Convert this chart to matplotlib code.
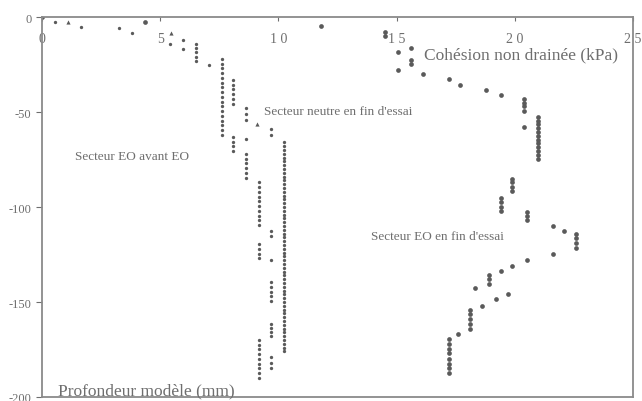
import matplotlib.pyplot as plt

plt.rcParams['font.family'] = ['Liberation Serif', 'DejaVu Serif']
plt.rcParams['axes.unicode_minus'] = False

# Secteur EO avant EO (small dots)
avant_x = [0.55, 1.65, 3.25, 3.8, 5.4, 5.95, 5.95,
           6.5, 6.5, 6.5, 6.5, 6.5, 7.05,
           7.6, 7.6, 7.6, 7.6, 7.6, 7.6, 7.6, 7.6, 7.6, 7.6, 7.6, 7.6, 7.6, 7.6, 7.6, 7.6, 7.6,
           8.1, 8.1, 8.1, 8.1, 8.1, 8.1, 8.1, 8.1, 8.1, 8.1,
           8.65, 8.65, 8.65, 8.65, 8.65, 8.65, 8.65, 8.65, 8.65, 8.65,
           9.2, 9.2, 9.2, 9.2, 9.2, 9.2, 9.2, 9.2, 9.2, 9.2,
           9.2, 9.2, 9.2, 9.2,
           9.2, 9.2, 9.2, 9.2, 9.2, 9.2, 9.2, 9.2, 9.2]
avant_y = [-2.6, -5.3, -5.8, -8.4, -14, -12, -17,
           -14, -16.3, -18.6, -21, -23, -25,
           -22, -24.5, -27, -29.5, -32, -34.5, -37, -39.5, -42, -44.5, -47, -49.5, -52, -54.5, -57, -59.5, -62,
           -33, -35.5, -38, -40.5, -43, -45.5, -63, -65.5, -68, -70.5,
           -48, -51, -54, -64, -72, -74.5, -77, -79.5, -82, -84.5,
           -87, -89.5, -92, -94.5, -97, -99.5, -102, -104.5, -107, -109.5,
           -119.5, -122, -124.5, -127,
           -170, -172.5, -175, -177.5, -180, -182.5, -185, -187.5, -190]

# Secteur neutre en fin d'essai
neutre_x = [9.7, 9.7, 9.7, 9.7, 9.7, 9.7, 9.7, 9.7, 9.7, 9.7, 9.7, 9.7, 9.7, 9.7, 9.7, 9.7, 9.7]
neutre_y = [-59, -62, -112.5, -115.5, -128, -139.5, -142, -144.5, -147, -149.5,
            -161.5, -163.5, -166, -168, -179, -182, -185]
long_y = [-66, -68, -70, -72, -74, -76, -78, -80, -82, -84, -86, -88, -90, -92, -94,
          -96, -98, -100, -102, -104, -106, -108, -110, -112, -114, -116, -118, -120,
          -122, -124, -126, -128, -130, -132, -134, -136, -138, -140, -142, -144, -146,
          -148, -150, -152, -154, -156, -158, -160, -162, -164, -166, -168, -170, -172,
          -174, -176]
long_x = [10.25] * len(long_y)
tri_x = [1.1, 5.45, 9.1]
tri_y = [-2.6, -8.4, -56.3]

# Secteur EO en fin d'essai (larger dots)
fin_x = [0, 4.35, 11.8, 14.5, 14.5, 15.06, 15.06, 15.6, 15.6, 15.6, 16.1, 17.2, 17.7, 18.8, 19.4,
         20.4, 20.4, 20.4, 20.4, 20.4,
         21.0, 21.0, 21.0, 21.0, 21.0, 21.0, 21.0, 21.0, 21.0, 21.0, 21.0, 21.0,
         19.9, 19.9, 19.9, 19.9, 19.4, 19.4, 19.4, 19.4, 20.5, 20.5, 20.5,
         21.6, 22.1, 22.6, 22.6, 22.6, 22.6, 21.6, 20.5, 19.9, 19.4,
         18.9, 18.9, 18.9, 18.3, 19.7, 19.2, 18.6,
         18.1, 18.1, 18.1, 18.1, 18.1, 17.6,
         17.2, 17.2, 17.2, 17.2, 17.2, 17.2, 17.2, 17.2]
fin_y = [0, -2.6, -4.8, -8, -10, -18.4, -27.9, -16.3, -22.6, -24.7, -30, -32.6, -35.8, -38.4, -41,
         -43, -45, -47, -49.5, -58,
         -52.5, -54.5, -56.5, -58.5, -60.5, -62.5, -64.5, -66.5, -68.5, -70.5, -72.5, -74.5,
         -85, -87, -89.5, -91.5, -95, -97.5, -100, -102, -102.5, -104.5, -107,
         -110, -112.5, -114, -116.5, -119, -121.5, -124.5, -128, -131, -133.5,
         -136, -138, -140.5, -142.5, -146, -148.5, -152,
         -154, -156.5, -159, -161.5, -164, -167,
         -169.5, -172, -174.5, -177, -180, -182.5, -185, -187.5]

xticks = [0, 5, 10, 15, 20, 25]
xtick_labels = ['0', '5', '1 0', '1 5', '2 0', '2 5']
yticks = [0, -50, -100, -150, -200]

grey = '#6e6e6e'
dot = '#5a5a5a'

fig = plt.figure(figsize=(6.42, 4.02), dpi=100)
ax = fig.add_axes([0.0654, 0.01, 0.9206, 0.945])

ax.plot(avant_x, avant_y, 'o', ms=2.4, color=dot, mec='none')
ax.plot(neutre_x, neutre_y, 'o', ms=2.4, color=dot, mec='none')
ax.plot(long_x, long_y, 'o', ms=2.4, color=dot, mec='none')
ax.plot(tri_x, tri_y, '^', ms=3, color=dot, mec='none')
ax.plot(fin_x, fin_y, 'o', ms=3.4, color=dot, mec='none')

ax.set_xlim(0, 25)
ax.set_ylim(-200, 0)

ax.set_xticks(xticks)
ax.set_xticklabels(xtick_labels)
ax.set_yticks(yticks)
ax.tick_params(axis='x', top=True, bottom=False, labeltop=True, labelbottom=False,
               direction='in', length=3, pad=-20, labelsize=10, colors=grey)
ax.tick_params(axis='y', direction='out', length=4, labelsize=9, colors=grey)

for s in ax.spines.values():
    s.set_color('#8a8a8a')
    s.set_linewidth(1.3)

ax.text(20.25, -19.8, 'Cohésion non drainée (kPa)', ha='center', va='center', fontsize=12.5, color=grey)
ax.text(0.68, -196.3, 'Profondeur modèle (mm)', ha='left', va='center', fontsize=12.5, color=grey)
ax.text(9.4, -49.5, "Secteur neutre en fin d'essai", ha='left', va='center', fontsize=9.5, color=grey)
ax.text(1.4, -73, 'Secteur EO avant EO', ha='left', va='center', fontsize=9.5, color=grey)
ax.text(13.9, -115, "Secteur EO en fin d'essai", ha='left', va='center', fontsize=9.5, color=grey)

fig.savefig('out.png', dpi=100)
